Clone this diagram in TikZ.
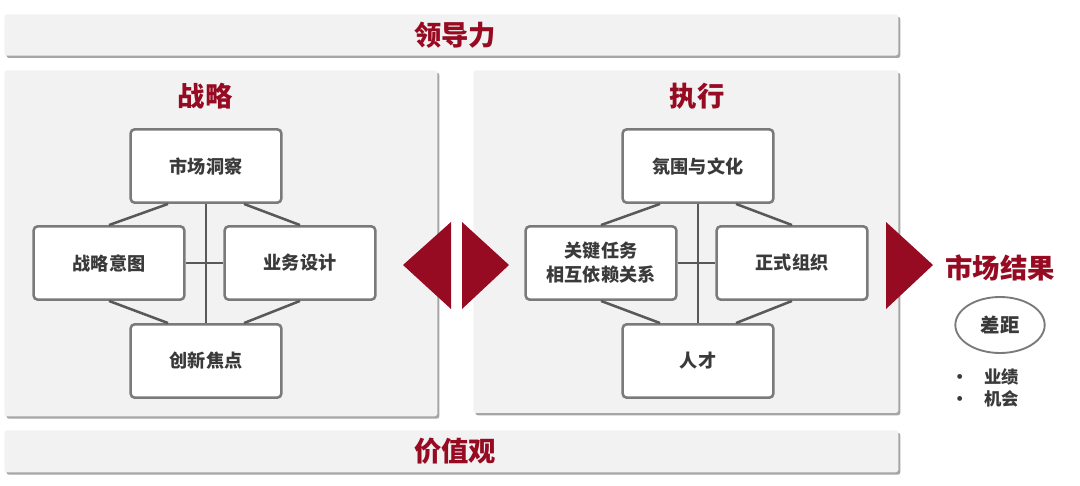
\documentclass[tikz,border=0pt]{standalone}
\usepackage{fontspec}
\newfontfamily\cjk{Noto Sans CJK SC}
\usetikzlibrary{shapes.geometric,shadows}
\definecolor{darkred}{HTML}{960A22}
\definecolor{panelgray}{HTML}{F2F2F2}
\definecolor{boxgray}{HTML}{7A7A7A}
\definecolor{linegray}{HTML}{595959}
\definecolor{textgray}{HTML}{3A3A3A}
\definecolor{shadowgray}{HTML}{A6A6A6}
\tikzset{
  panel/.style={fill=panelgray, rounded corners=2pt, inner sep=0pt, anchor=north west,
    drop shadow={shadow xshift=1.6pt, shadow yshift=-1.8pt, fill=shadowgray, opacity=1}},
  stepbox/.style={draw=boxgray, line width=1.9pt, fill=white, rounded corners=3pt,
    minimum width=113pt, minimum height=55pt, inner sep=0pt, align=center,
    font=\cjk\bfseries\fontsize{13.6}{17}\selectfont, text=textgray},
  link/.style={draw=linegray, line width=1.9pt},
  title/.style={font=\cjk\bfseries\fontsize{20.5}{24}\selectfont, text=darkred, inner sep=0pt},
  arrowfill/.style={fill=darkred},
  bullettext/.style={font=\cjk\bfseries\fontsize{13}{16}\selectfont, text=textgray, inner sep=0pt, anchor=west}
}
\begin{document}
\begin{tikzpicture}[x=0.75pt,y=-0.75pt]
\useasboundingbox (0,0) rectangle (1080,485);
% bars and panels
\node[panel, minimum width=670.5pt, minimum height=31pt] (lead) at (4,14) {};
\node[panel, minimum width=324.75pt, minimum height=259.5pt] (strat) at (4,70) {};
\node[panel, minimum width=318.75pt, minimum height=257pt] (exec) at (473,70) {};
\node[panel, minimum width=670.5pt, minimum height=31.5pt] (values) at (4,430) {};
% titles
\node[title] (tlead) at (455,35) {领导力};
\node[title] (tstrat) at (205,96) {战略};
\node[title] (texec) at (697,96) {执行};
\node[title] (tvalues) at (455,451) {价值观};
% strategy boxes
\node[stepbox] (s1) at (206,166) {市场洞察};
\node[stepbox] (s2) at (109,263) {战略意图};
\node[stepbox] (s3) at (300,263) {业务设计};
\node[stepbox] (s4) at (206,361) {创新焦点};
\draw[link] (s1.south) -- (s4.north);
\draw[link] (s2.east) -- (s3.west);
\draw[link] ([xshift=-28.5pt]s1.south) -- (s2.north);
\draw[link] ([xshift=28.5pt]s1.south) -- (s3.north);
\draw[link] ([xshift=-28.5pt]s4.north) -- (s2.south);
\draw[link] ([xshift=28.5pt]s4.north) -- (s3.south);
% execution boxes
\node[stepbox] (e1) at (698,166) {氛围与文化};
\node[stepbox, font=\cjk\bfseries\fontsize{13.6}{18}\selectfont] (e2) at (601,263) {关键任务\\相互依赖关系};
\node[stepbox] (e3) at (792,263) {正式组织};
\node[stepbox] (e4) at (698,361) {人才};
\draw[link] (e1.south) -- (e4.north);
\draw[link] (e2.east) -- (e3.west);
\draw[link] ([xshift=-28.5pt]e1.south) -- (e2.north);
\draw[link] ([xshift=28.5pt]e1.south) -- (e3.north);
\draw[link] ([xshift=-28.5pt]e4.north) -- (e2.south);
\draw[link] ([xshift=28.5pt]e4.north) -- (e3.south);
% arrows
\fill[arrowfill] (403,265) -- (451,222) -- (451,309) -- cycle;
\fill[arrowfill] (509,265) -- (462,222) -- (462,309) -- cycle;
\fill[arrowfill] (933,265) -- (886,222) -- (886,309) -- cycle;
% market results
\node[title] (result) at (1000,268) {市场结果};
\node[ellipse, draw=boxgray, line width=1.4pt, fill=white, minimum width=67pt, minimum height=42pt, inner sep=0pt,
  font=\cjk\bfseries\fontsize{14.5}{17}\selectfont, text=textgray] (gap) at (1000,325) {差距};
\node[bullettext] (b1) at (951,377) {•\hspace{12pt}业绩};
\node[bullettext] (b2) at (951,399) {•\hspace{12pt}机会};
\end{tikzpicture}
\end{document}
